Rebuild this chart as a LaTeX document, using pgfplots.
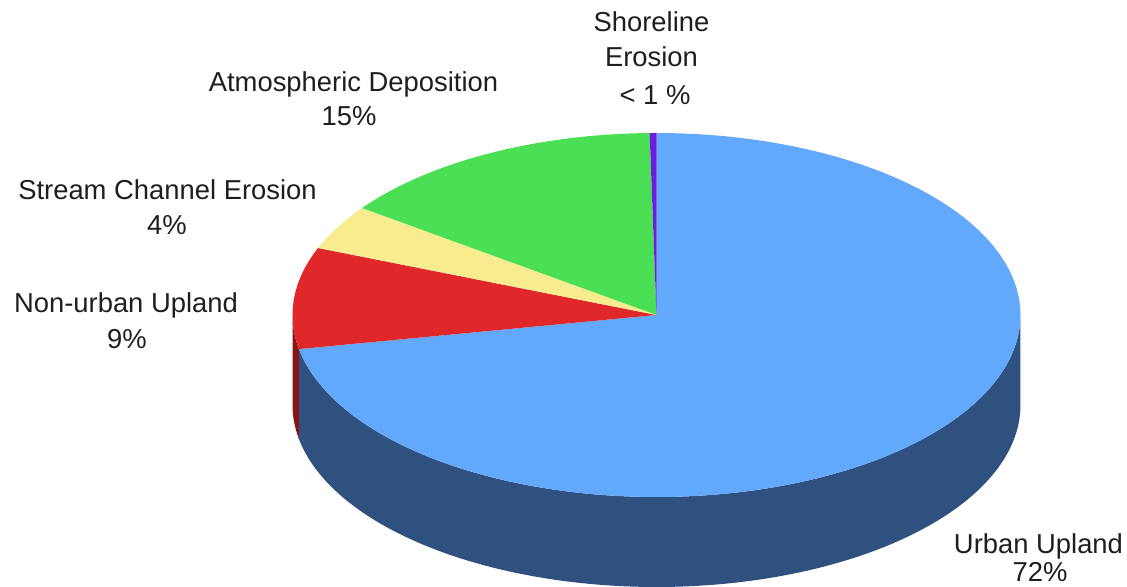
\documentclass[border=0pt]{standalone}
\usepackage{pgfplots}
\pgfplotsset{compat=1.18}
\usepackage{pgfplotstable}
\usepgfplotslibrary{fillbetween}
\usepackage{fontspec}
\setmainfont{Liberation Sans}

\definecolor{urbanTop}{HTML}{62A9FC}
\definecolor{urbanSide}{HTML}{2F5180}
\definecolor{nonurbTop}{HTML}{E0282A}
\definecolor{nonurbSide}{HTML}{8A1414}
\definecolor{streamTop}{HTML}{F9EC8E}
\definecolor{atmosTop}{HTML}{4BDF55}
\definecolor{shoreTop}{HTML}{6A1FE0}
\definecolor{txt}{HTML}{1E1E1E}

% share of each source (percent), clockwise from the top
\pgfplotstableread{
slice value
Urban 72
NonUrban 9
Stream 4
Atmos 14.7
Shore 0.3
}\piedata

\begin{document}
\begin{tikzpicture}
\pgfplotstablegetelem{0}{value}\of\piedata \let\vA\pgfplotsretval
\pgfplotstablegetelem{1}{value}\of\piedata \let\vB\pgfplotsretval
\pgfplotstablegetelem{2}{value}\of\piedata \let\vC\pgfplotsretval
\pgfplotstablegetelem{3}{value}\of\piedata \let\vD\pgfplotsretval
\pgfplotstablegetelem{4}{value}\of\piedata \let\vE\pgfplotsretval
\pgfmathsetmacro\aA{90}
\pgfmathsetmacro\aB{\aA-3.6*\vA}
\pgfmathsetmacro\aC{\aB-3.6*\vB}
\pgfmathsetmacro\aD{\aC-3.6*\vC}
\pgfmathsetmacro\aE{\aD-3.6*\vD}
\pgfmathsetmacro\aF{\aE-3.6*\vE}
\def\cx{656.5}\def\cy{272}\def\rx{364}\def\ry{182}\def\dp{90}
\begin{axis}[at={(0,0)}, anchor=south west,
  width=1127bp, height=587bp, scale only axis,
  xmin=0, xmax=1127, ymin=0, ymax=587,
  hide axis, clip=false]
% front sides
\addplot[name path=uT, draw=none, domain=\aB:0, samples=120]
  ({\cx+\rx*cos(x)},{\cy+\ry*sin(x)});
\addplot[name path=uB, draw=none, domain=\aB:0, samples=120]
  ({\cx+\rx*cos(x)},{\cy-\dp+\ry*sin(x)});
\addplot[urbanSide, draw=none] fill between[of=uT and uB];
\addplot[name path=nT, draw=none, domain=-180:\aB, samples=20]
  ({\cx+\rx*cos(x)},{\cy+\ry*sin(x)});
\addplot[name path=nB, draw=none, domain=-180:\aB, samples=20]
  ({\cx+\rx*cos(x)},{\cy-\dp+\ry*sin(x)});
\addplot[nonurbSide, draw=none] fill between[of=nT and nB];
% top faces
\addplot[fill=urbanTop, draw=none, domain=\aB:\aA, samples=200]
  ({\cx+\rx*cos(x)},{\cy+\ry*sin(x)}) -- (axis cs:\cx,\cy) -- cycle;
\addplot[fill=nonurbTop, draw=none, domain=\aC:\aB, samples=40]
  ({\cx+\rx*cos(x)},{\cy+\ry*sin(x)}) -- (axis cs:\cx,\cy) -- cycle;
\addplot[fill=streamTop, draw=none, domain=\aD:\aC, samples=30]
  ({\cx+\rx*cos(x)},{\cy+\ry*sin(x)}) -- (axis cs:\cx,\cy) -- cycle;
\addplot[fill=atmosTop, draw=none, domain=\aE:\aD, samples=60]
  ({\cx+\rx*cos(x)},{\cy+\ry*sin(x)}) -- (axis cs:\cx,\cy) -- cycle;
\addplot[fill=shoreTop, draw=none, domain=\aF:\aE, samples=5]
  ({\cx+\rx*cos(x)},{\cy+\ry*sin(x)}) -- (axis cs:\cx,\cy) -- cycle;
% labels
\begin{scope}[every node/.style={anchor=base, text=txt, inner sep=0pt,
   font=\fontsize{27.5}{33}\selectfont}]
\node at (axis cs:651.5,555) {Shoreline};
\node at (axis cs:651.5,520) {Erosion};
\node at (axis cs:655,482) {< 1 \%};
\node at (axis cs:353.5,495) {Atmospheric Deposition};
\node at (axis cs:349,461) {15\%};
\node at (axis cs:167.5,387) {Stream Channel Erosion};
\node at (axis cs:167,352) {4\%};
\node at (axis cs:126,274) {Non-urban Upland};
\node at (axis cs:127,238) {9\%};
\node at (axis cs:1038.5,33) {Urban Upland};
\node at (axis cs:1040,6) {72\%};
\end{scope}
\end{axis}
\pgfresetboundingbox
\useasboundingbox (0,0) rectangle (1127bp,587bp);
\end{tikzpicture}
\end{document}
